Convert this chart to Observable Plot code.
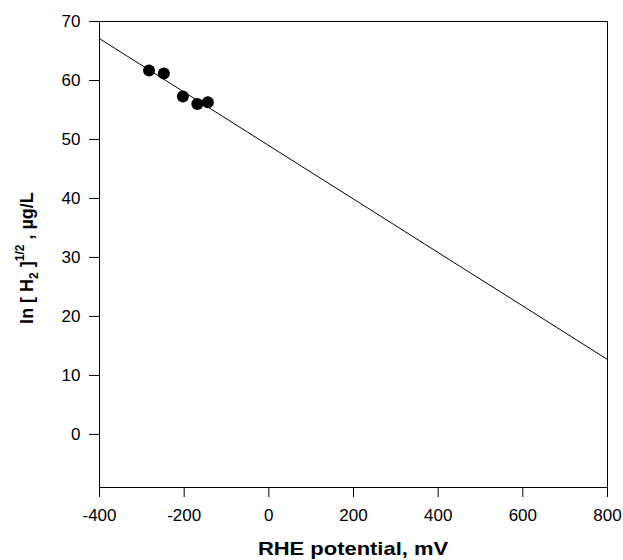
<!DOCTYPE html>
<html>
<head>
<meta charset="utf-8">
<script src="https://cdn.jsdelivr.net/npm/d3@7"></script>
<script src="https://cdn.jsdelivr.net/npm/@observablehq/plot@0.6"></script>
<style>
  html, body { margin: 0; padding: 0; background: #fff; }
  #chart svg { display: block; }
</style>
</head>
<body>
<div id="chart"></div>
<script>
const potential = [-283, -248, -203, -169, -144];
const lnH2 = [61.7, 61.2, 57.3, 56.0, 56.3];
const fitX = [-400, 800];
const fitY = [67.1, 12.7];
const xTicks = [-400, -200, 0, 200, 400, 600, 800];
const yTicks = [0, 10, 20, 30, 40, 50, 60, 70];

const points = potential.map((x, i) => ({x, y: lnH2[i]}));
const fit = fitX.map((x, i) => ({x, y: fitY[i]}));

const font = "'Liberation Sans', Arial, sans-serif";

const chart = Plot.plot({
  width: 623,
  height: 560,
  marginLeft: 99,
  marginRight: 16,
  marginTop: 21,
  marginBottom: 73,
  style: {fontFamily: font, fontSize: "17px", color: "#000", background: "#fff"},
  x: {domain: [-400, 800]},
  y: {domain: [-9, 70]},
  marks: [
    Plot.axisX({ticks: xTicks, tickSize: 10, tickPadding: 11, label: null, fontSize: 17, tickFormat: d => String(d)}),
    Plot.axisY({ticks: yTicks, tickSize: 10, tickPadding: 9, label: null, fontSize: 17, tickFormat: d => String(d)}),
    Plot.line(fit, {x: "x", y: "y", stroke: "#000", strokeWidth: 1}),
    Plot.dot(points, {x: "x", y: "y", r: 6, fill: "#000", stroke: "none"}),
    Plot.frame({stroke: "#000", strokeWidth: 1})
  ]
});

document.getElementById("chart").appendChild(chart);

const svg = d3.select(chart);
svg.append("text")
  .attr("transform", "translate(353,555) scale(1.22,1)")
  .attr("text-anchor", "middle")
  .attr("font-family", font)
  .attr("font-size", 18)
  .attr("font-weight", "bold")
  .attr("fill", "#000")
  .text("RHE potential, mV");

const yl = svg.append("text")
  .attr("transform", "translate(33,258) rotate(-90)")
  .attr("text-anchor", "middle")
  .attr("font-family", font)
  .attr("font-size", 18)
  .attr("font-weight", "bold")
  .attr("fill", "#000");
yl.append("tspan").text("ln [ H");
yl.append("tspan").attr("font-size", 12).attr("dy", 5).text("2");
yl.append("tspan").attr("dy", -5).text(" ]");
yl.append("tspan").attr("font-size", 12).attr("dy", -9).text("1/2");
yl.append("tspan").attr("dy", 9).text(" , µg/L");
</script>
</body>
</html>
